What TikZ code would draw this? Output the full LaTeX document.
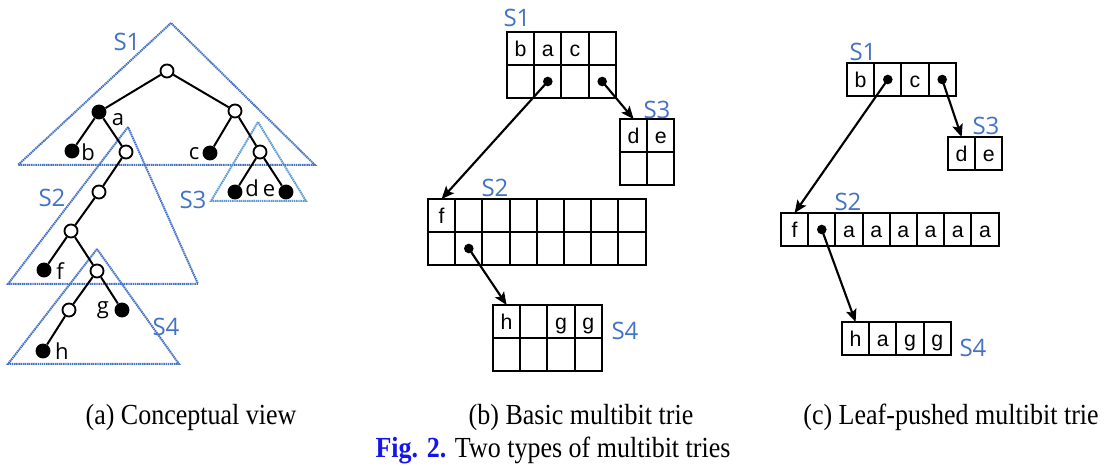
\documentclass[tikz,border=0pt]{standalone}
\usepackage{fontspec}
\setmainfont{Liberation Serif}
\newfontfamily\labfont{Open Sans}
\newfontfamily\cellfont{Liberation Sans}
\usetikzlibrary{arrows.meta}

\definecolor{sblue}{RGB}{68,114,196}
\definecolor{slight}{RGB}{91,155,213}
\definecolor{figblue}{RGB}{20,20,235}

% one row of table cells: name, left x, top y, entries
\newcommand\cellrow[4]{%
  \foreach \t [count=\i] in {#4} {
    \node[cell] (#1-\i) at ({#2+(\i-1)*27.2},#3) {\t};
  }%
}

\begin{document}
\begin{tikzpicture}[x=0.75pt,y=-0.75pt,
  open/.style={circle,draw,line width=1.4pt,fill=white,minimum size=9.8pt,inner sep=0pt},
  leaf/.style={circle,fill=black,minimum size=11.2pt,inner sep=0pt},
  edge/.style={line width=1.5pt},
  tri/.style={draw=sblue,line width=1.5pt,dash pattern=on 1.1pt off 0.5pt},
  trilight/.style={tri,draw=slight},
  lab/.style={font=\labfont\fontsize{16.5}{19}\selectfont,inner sep=0pt,anchor=base},
  slab/.style={font=\labfont\fontsize{18}{21}\selectfont,text=sblue,inner sep=0pt},
  cell/.style={draw,line width=1.4pt,anchor=north west,outer sep=0pt,inner sep=0pt,
    minimum width=20.4pt,minimum height=24.75pt,text height=12.2pt,text depth=0.2pt,
    font=\cellfont\fontsize{16}{19}\selectfont},
  dot/.style={circle,fill=black,minimum size=7.2pt,inner sep=0pt},
  ptr/.style={line width=1.6pt,-{Stealth[length=9.5pt,width=8pt,inset=2pt]}},
  captext/.style={font=\fontsize{19.5}{23}\selectfont,inner sep=0pt,anchor=base,
    yscale=1.12,transform shape}]
\useasboundingbox (0,0) rectangle (1108,466);

% ---------- (a) conceptual view ----------
\draw[tri] (171,23) -- (18,165) -- (315,165) -- cycle;
\draw[tri] (128,127) -- (8,284) -- (198,284) -- cycle;
\draw[trilight] (258,122) -- (211,201) -- (306,201) -- cycle;
\draw[tri] (97,249) -- (8,364) -- (179,364) -- cycle;

\node[open] (root) at (167,71) {};
\node[leaf] (na) at (99,112) {};
\node[open] (r1) at (235,111) {};
\node[leaf] (nb) at (72,151) {};
\node[open] (n1) at (126,152) {};
\node[leaf] (nc) at (210,153) {};
\node[open] (r2) at (260,152) {};
\node[leaf] (nd) at (235,192) {};
\node[leaf] (ne) at (286,192) {};
\node[open] (n2) at (99,192) {};
\node[open] (n3) at (71,231) {};
\node[leaf] (nf) at (44,270) {};
\node[open] (n4) at (97,271) {};
\node[open] (n5) at (69,310) {};
\node[leaf] (ng) at (122,310) {};
\node[leaf] (nh) at (43,351) {};

\draw[edge] (root) -- (na);
\draw[edge] (root) -- (r1);
\draw[edge] (na) -- (nb);
\draw[edge] (na) -- (n1);
\draw[edge] (r1) -- (nc);
\draw[edge] (r1) -- (r2);
\draw[edge] (r2) -- (nd);
\draw[edge] (r2) -- (ne);
\draw[edge] (n1) -- (n2);
\draw[edge] (n2) -- (n3);
\draw[edge] (n3) -- (nf);
\draw[edge] (n3) -- (n4);
\draw[edge] (n4) -- (n5);
\draw[edge] (n4) -- (ng);
\draw[edge] (n5) -- (nh);

\node[lab] (la) at (118,126) {a};
\node[lab] (lb) at (88,161) {b};
\node[lab] (lc) at (194,160) {c};
\node[lab] (ld) at (252,197) {d};
\node[lab] (le) at (269,197) {e};
\node[lab] (lf) at (60,280) {f};
\node[lab] (lg) at (103,314) {g};
\node[lab] (lh) at (62,360) {h};

\node[slab] (as1) at (127,42) {S1};
\node[slab] (as2) at (52,198) {S2};
\node[slab] (as3) at (193,200) {S3};
\node[slab] (as4) at (166,327) {S4};

% ---------- (b) basic multibit trie ----------
\cellrow{bS1t}{507}{32}{b,a,c,{}}
\cellrow{bS1b}{507}{65}{{},{},{},{}}
\cellrow{bS3t}{620}{119}{d,e}
\cellrow{bS3b}{620}{152}{{},{}}
\cellrow{bS2t}{428}{199}{f,{},{},{},{},{},{},{}}
\cellrow{bS2b}{428}{232}{{},{},{},{},{},{},{},{}}
\cellrow{bS4t}{493}{305}{h,{},g,g}
\cellrow{bS4b}{493}{338}{{},{},{},{}}

\node[slab] (bs1) at (517,18) {S1};
\node[slab] (bs3) at (657,110) {S3};
\node[slab] (bs2) at (495,188) {S2};
\node[slab] (bs4) at (625,331) {S4};

\node[dot] (bp1) at (bS1b-2.center) {};
\node[dot] (bp2) at (bS1b-4.center) {};
\node[dot] (bp3) at (bS2b-2.center) {};
\draw[ptr] (bp1.center) -- (bS2t-1.north);
\draw[ptr] (bp2.center) -- (bS3t-1.north);
\draw[ptr] (bp3.center) -- (bS4t-1.north);

% ---------- (c) leaf-pushed multibit trie ----------
\cellrow{cS1}{847}{63}{b,{},c,{}}
\cellrow{cS3}{948}{137}{d,e}
\cellrow{cS2}{781}{213}{f,{},a,a,a,a,a,a}
\cellrow{cS4}{842}{322}{h,a,g,g}

\node[slab] (cs1) at (863,52) {S1};
\node[slab] (cs3) at (986,126) {S3};
\node[slab] (cs2) at (848,202) {S2};
\node[slab] (cs4) at (973,348) {S4};

\node[dot] (cp1) at (cS1-2.center) {};
\node[dot] (cp2) at (cS1-4.center) {};
\node[dot] (cp3) at (cS2-2.center) {};
\draw[ptr] (cp1.center) -- (cS2-1.north);
\draw[ptr] (cp2.center) -- (cS3-1.north);
\draw[ptr] (cp3.center) -- (cS4-1.north);

% ---------- captions ----------
\node[captext] (capa) at (191,425) {(a) Conceptual view};
\node[captext] (capb) at (581,425) {(b) Basic multibit trie};
\node[captext] (capc) at (951,425) {(c) Leaf-pushed multibit trie};
\node[captext] (fig) at (553,458) {\textcolor{figblue}{\bfseries Fig. 2.} Two types of multibit tries};
\end{tikzpicture}
\end{document}
